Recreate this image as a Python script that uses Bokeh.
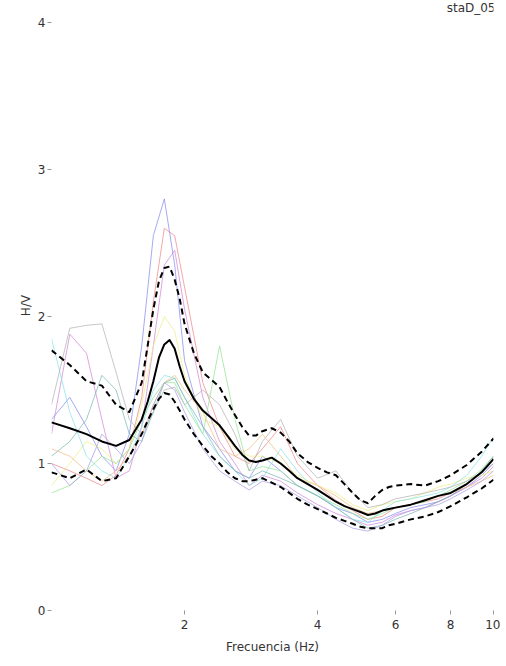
from bokeh.plotting import figure
from bokeh.models import Range1d, FixedTicker, Label
from bokeh.embed import file_html
from bokeh.resources import INLINE

# frequencies of the individual windows
freq = [1.0, 1.1, 1.2, 1.3, 1.4, 1.5, 1.6, 1.7, 1.8, 1.9, 2.0, 2.2, 2.4, 2.6, 2.8, 3.0,
        3.3, 3.6, 4.0, 4.4, 4.8, 5.2, 5.6, 6.0, 6.5, 7.0, 7.5, 8.0, 8.7, 9.4, 10.0]

# frequencies of the average and +/- std curves
stat_freq = [1.0, 1.1, 1.2, 1.3, 1.4, 1.5, 1.6, 1.65, 1.7, 1.75, 1.8, 1.85, 1.9, 1.95,
             2.0, 2.1, 2.2, 2.3, 2.4, 2.5, 2.6, 2.7, 2.8, 2.9, 3.0, 3.15, 3.3, 3.45, 3.6, 3.8,
             4.0, 4.2, 4.4, 4.6, 4.8, 5.0, 5.2, 5.4, 5.6, 5.8, 6.0, 6.5, 7.0, 7.5, 8.0, 8.7, 9.4, 10.0]
mean_hv = [1.28, 1.24, 1.20, 1.15, 1.12, 1.16, 1.30, 1.42, 1.56, 1.72, 1.81, 1.84, 1.78, 1.66,
           1.56, 1.44, 1.36, 1.31, 1.26, 1.19, 1.12, 1.06, 1.02, 1.01, 1.02, 1.04, 1.00, 0.95, 0.90, 0.86,
           0.82, 0.78, 0.74, 0.71, 0.69, 0.67, 0.65, 0.66, 0.68, 0.69, 0.70, 0.72, 0.75, 0.78, 0.80, 0.86, 0.94, 1.03]
upper_hv = [1.77, 1.67, 1.56, 1.53, 1.40, 1.35, 1.55, 1.80, 2.05, 2.24, 2.33, 2.34, 2.25, 2.12,
            1.95, 1.75, 1.62, 1.57, 1.52, 1.42, 1.33, 1.25, 1.19, 1.19, 1.22, 1.24, 1.21, 1.15, 1.07, 1.01,
            0.97, 0.94, 0.92, 0.86, 0.80, 0.75, 0.73, 0.78, 0.82, 0.84, 0.85, 0.86, 0.85, 0.88, 0.92, 0.99, 1.08, 1.17]
lower_hv = [0.94, 0.90, 0.96, 0.88, 0.90, 1.05, 1.20, 1.29, 1.37, 1.44, 1.48, 1.47, 1.42, 1.36,
            1.30, 1.20, 1.12, 1.05, 1.00, 0.94, 0.90, 0.88, 0.88, 0.89, 0.90, 0.87, 0.84, 0.80, 0.76, 0.72,
            0.69, 0.66, 0.63, 0.61, 0.59, 0.57, 0.56, 0.56, 0.56, 0.58, 0.59, 0.62, 0.64, 0.67, 0.71, 0.77, 0.83, 0.89]

win_blue = [1.30, 1.45, 1.25, 1.05, 0.95, 1.20, 1.80, 2.55, 2.80, 2.35, 1.70, 1.25, 1.10, 0.95, 0.90, 1.05,
            0.95, 0.85, 0.78, 0.70, 0.66, 0.60, 0.62, 0.66, 0.70, 0.72, 0.74, 0.78, 0.84, 0.92, 1.00]
win_red = [1.00, 0.95, 0.90, 0.85, 0.92, 1.10, 1.45, 2.10, 2.60, 2.55, 2.20, 1.55, 1.25, 1.05, 1.00, 1.10,
           1.25, 1.00, 0.85, 0.75, 0.68, 0.62, 0.64, 0.70, 0.72, 0.74, 0.76, 0.80, 0.86, 0.94, 1.04]
win_magenta = [1.20, 1.88, 1.75, 1.30, 0.90, 0.95, 1.25, 1.80, 2.35, 2.45, 2.05, 1.45, 1.15, 1.00, 0.85, 0.92,
               0.88, 0.80, 0.72, 0.66, 0.62, 0.58, 0.60, 0.65, 0.68, 0.70, 0.74, 0.78, 0.84, 0.90, 0.98]
win_yellow = [0.85, 1.00, 1.15, 1.10, 1.00, 1.10, 1.40, 1.80, 2.00, 1.90, 1.60, 1.30, 1.25, 1.10, 1.05, 1.05,
              1.00, 0.92, 0.85, 0.80, 0.72, 0.68, 0.72, 0.74, 0.76, 0.80, 0.84, 0.86, 0.90, 0.92, 0.95]
win_cyan = [1.85, 1.35, 1.05, 0.95, 0.90, 1.05, 1.25, 1.50, 1.60, 1.58, 1.45, 1.20, 1.05, 0.95, 0.85, 0.90,
            1.10, 0.95, 0.80, 0.70, 0.62, 0.60, 0.68, 0.74, 0.76, 0.78, 0.80, 0.84, 0.92, 1.05, 1.18]
win_green = [0.80, 0.85, 0.95, 1.05, 1.00, 1.10, 1.30, 1.45, 1.55, 1.55, 1.40, 1.20, 1.80, 1.30, 0.95, 0.98,
             0.95, 0.85, 0.78, 0.72, 0.66, 0.62, 0.66, 0.70, 0.72, 0.74, 0.78, 0.82, 0.88, 0.96, 1.05]
win_gray = [1.40, 1.92, 1.94, 1.95, 1.62, 1.30, 1.20, 1.35, 1.50, 1.52, 1.40, 1.50, 1.40, 1.20, 0.95, 1.15,
            1.30, 1.05, 0.90, 0.95, 0.80, 0.70, 0.72, 0.76, 0.78, 0.80, 0.82, 0.84, 0.88, 0.94, 1.00]
win_teal = [1.05, 1.15, 1.30, 1.60, 1.50, 1.20, 1.15, 1.35, 1.55, 1.58, 1.45, 1.25, 1.05, 0.95, 0.90, 0.95,
            0.90, 0.85, 0.78, 0.70, 0.62, 0.56, 0.58, 0.62, 0.66, 0.70, 0.74, 0.78, 0.86, 0.95, 1.05]
win_orange = [1.10, 1.05, 0.95, 0.88, 0.95, 1.05, 1.20, 1.40, 1.55, 1.60, 1.50, 1.35, 1.10, 1.05, 1.10, 1.20,
              1.05, 0.90, 0.85, 0.78, 0.70, 0.66, 0.68, 0.70, 0.72, 0.75, 0.78, 0.80, 0.84, 0.88, 0.92]
win_violet = [1.00, 0.85, 0.95, 1.20, 1.10, 1.00, 1.15, 1.40, 1.55, 1.50, 1.35, 1.10, 0.95, 0.88, 0.82, 0.88,
              0.85, 0.78, 0.70, 0.62, 0.56, 0.54, 0.58, 0.64, 0.68, 0.70, 0.72, 0.76, 0.82, 0.88, 0.95]

windows = [
    (win_blue, "#8a8cf0"), (win_red, "#f08a8a"), (win_magenta, "#d28ad8"), (win_yellow, "#eeee88"),
    (win_cyan, "#88e4ea"), (win_green, "#96e496"), (win_gray, "#b4b4b4"), (win_teal, "#7fb8b4"),
    (win_orange, "#f0c08a"), (win_violet, "#aaa0e6"),
]

x_ticks = [2, 4, 6, 8, 10]
y_ticks = [0, 1, 2, 3, 4]

FONT = "DejaVu Sans"
TXT = "#333333"

p = figure(width=500, height=658, x_axis_type="log", output_backend="svg", toolbar_location=None,
           x_range=Range1d(1.0, 10.0), y_range=Range1d(0, 4.15),
           min_border_left=51, min_border_right=7, min_border_top=0, min_border_bottom=48)
p.outline_line_color = None
p.xgrid.visible = False
p.ygrid.visible = False
p.background_fill_color = "white"

for vals, col in windows:
    p.line(freq, vals, line_color=col, line_width=1, line_alpha=0.75, line_join="round")

p.line(stat_freq, upper_hv, line_color="black", line_width=2, line_dash="6 4", line_join="round")
p.line(stat_freq, lower_hv, line_color="black", line_width=2, line_dash="6 4", line_join="round")
p.line(stat_freq, mean_hv, line_color="black", line_width=2, line_join="round")

p.xaxis.ticker = FixedTicker(ticks=x_ticks)
p.yaxis.ticker = FixedTicker(ticks=y_ticks)
p.xaxis.major_label_overrides = {t: str(t) for t in x_ticks}

for ax in (p.xaxis[0], p.yaxis[0]):
    ax.axis_line_color = None
    ax.major_tick_line_color = "#999999"
    ax.major_tick_in = 0
    ax.major_tick_out = 4
    ax.minor_tick_line_color = None
    ax.major_label_text_font = FONT
    ax.major_label_text_font_size = "12px"
    ax.major_label_text_color = TXT
    ax.axis_label_text_font = FONT
    ax.axis_label_text_font_size = "12px"
    ax.axis_label_text_font_style = "normal"
    ax.axis_label_text_color = TXT

p.xaxis.axis_label = "Frecuencia (Hz)"
p.xaxis.major_label_standoff = 5
p.xaxis.axis_label_standoff = 8
p.yaxis.axis_label = "H/V"
p.yaxis.major_label_standoff = 2
p.yaxis.axis_label_standoff = 2

p.add_layout(Label(x=10.0, y=4.1, text="staD_05", text_align="right", text_baseline="middle",
                   x_offset=2, text_font=FONT, text_font_size="12px", text_color=TXT))

open("out.html", "w").write(file_html(p, INLINE))
